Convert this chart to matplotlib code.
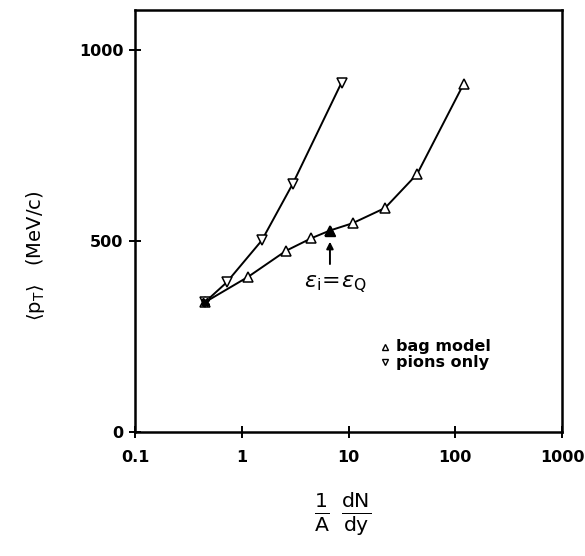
import matplotlib
matplotlib.use('Agg')
import matplotlib.pyplot as plt

# data
BAG_X = [0.45, 1.15, 2.6, 4.5, 6.7, 10.9, 22, 44, 120]
BAG_Y = [340, 407, 475, 508, 528, 547, 587, 676, 912]

PION_X = [0.45, 0.72, 1.54, 3.0, 8.6]
PION_Y = [340, 392, 502, 650, 915]

CROSS_X = 6.7
CROSS_Y = 528

XTICKS = [0.1, 1, 10, 100, 1000]
XLABELS = ['0.1', '1', '10', '100', '1000']
YTICKS = [0, 500, 1000]

plt.rcParams['font.family'] = 'DejaVu Sans'
plt.rcParams['mathtext.fontset'] = 'dejavusans'

fig = plt.figure(figsize=(5.85, 5.56), dpi=100)
ax = fig.add_axes([0.2308, 0.2225, 0.7299, 0.7595])

ax.plot(BAG_X, BAG_Y, color='black', lw=1.4, marker='^', ms=7,
	mfc='white', mec='black', mew=1.1, zorder=3)
ax.plot(PION_X, PION_Y, color='black', lw=1.4, marker='v', ms=7,
	mfc='white', mec='black', mew=1.1, zorder=3)
ax.plot([CROSS_X], [CROSS_Y], marker='^', ms=7, color='black', zorder=4)
ax.plot([BAG_X[0]], [BAG_Y[0]], marker='X', ms=6, color='black', zorder=4)

# epsilon_i = epsilon_Q marker
ax.annotate('', xy=(CROSS_X, CROSS_Y - 22), xytext=(CROSS_X, CROSS_Y - 95),
	arrowprops=dict(arrowstyle='-|>', color='black', lw=1.4, mutation_scale=10))
ax.text(CROSS_X * 1.12, CROSS_Y - 140,
	r'$\varepsilon_{\mathrm{i}}\!=\!\varepsilon_{\mathrm{Q}}$',
	ha='center', va='center', fontsize=16)

# legend drawn by hand
ax.plot([0.585], [0.202], transform=ax.transAxes, marker='^', ms=5,
	mfc='white', mec='black', mew=1.0, ls='none')
ax.plot([0.585], [0.166], transform=ax.transAxes, marker='v', ms=5,
	mfc='white', mec='black', mew=1.0, ls='none')
ax.text(0.612, 0.202, 'bag model', transform=ax.transAxes, va='center',
	fontsize=11.5, fontweight='bold')
ax.text(0.612, 0.166, 'pions only', transform=ax.transAxes, va='center',
	fontsize=11.5, fontweight='bold')

ax.set_xscale('log')
ax.set_xlim(0.1, 1000)
ax.set_ylim(0, 1105)
ax.set_xticks(XTICKS)
ax.set_xticklabels(XLABELS)
ax.minorticks_off()
ax.set_yticks(YTICKS)
for lbl in ax.get_xticklabels() + ax.get_yticklabels():
	lbl.set_fontweight('bold')
ax.tick_params(axis='y', direction='inout', length=9, width=1.4, labelsize=11.5, pad=4)
ax.tick_params(axis='x', direction='inout', length=8, width=1.4, labelsize=11.5, pad=9)
for s in ax.spines.values():
	s.set_linewidth(1.8)

fig.text(0.06, 0.54, r'$\langle\mathrm{p_T}\rangle$   (MeV/c)', rotation=90,
	ha='center', va='center', fontsize=14)
fig.text(0.585, 0.075,
	r'$\frac{\mathrm{1}}{\mathrm{A}}\ \frac{\mathrm{dN}}{\mathrm{dy}}$',
	ha='center', va='center', fontsize=21)

fig.savefig('out.png', dpi=100)
